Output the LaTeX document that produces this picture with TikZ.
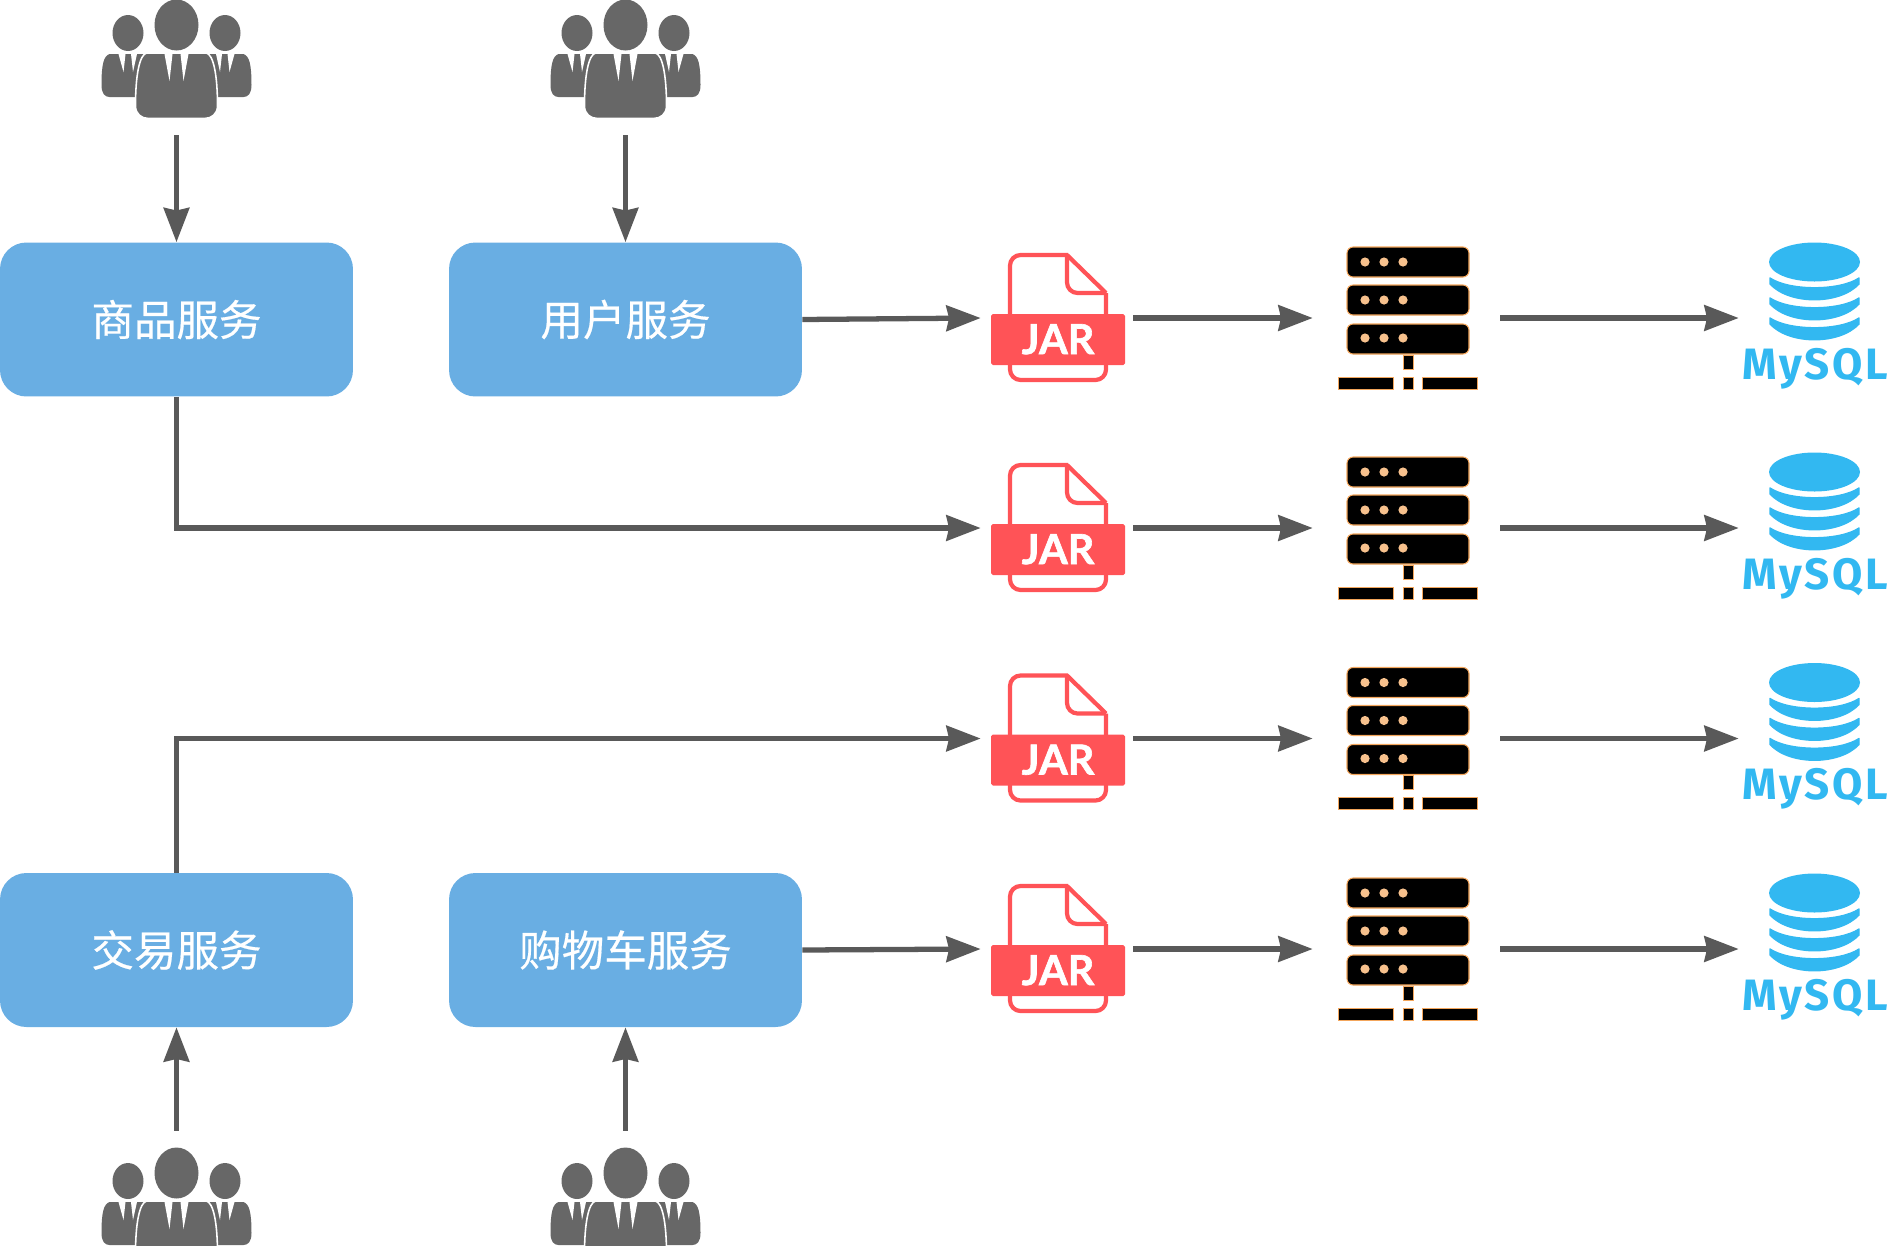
\documentclass[tikz,border=0pt]{standalone}
\usepackage{fontspec}
\setmainfont[FakeBold=0.4]{Noto Sans CJK SC}
\setsansfont{Fira Sans}
\newfontfamily\jarfont[FakeBold=1.5]{Lato}
\usetikzlibrary{arrows.meta}
\definecolor{C1}{HTML}{69AEE3}
\definecolor{C2}{HTML}{595959}
\definecolor{C3}{HTML}{676767}
\definecolor{C4}{HTML}{FF5357}
\definecolor{C5}{HTML}{F3A65C}
\definecolor{C6}{HTML}{32B8F1}
\tikzset{
crowd/.pic={
\node[inner sep=0mm,minimum width=3cm,minimum height=3.04cm] (box) at (0,59) {};
\foreach \s in {1,-1} {
\begin{scope}[xscale=\s]
\fill[C3] (-48.5,33) ellipse (15.5 and 18);
\fill[C3] (-67,54) -- (-30,54) -- (-30,97) -- (-67,97) .. controls (-72,97) and (-75,93) .. (-75,85) .. controls (-75,65) and (-73,56) .. (-67,54) -- cycle;
\fill[white] (-58,54) -- (-51,54) -- (-53,72) -- cycle;
\fill[white] (-45.5,54) -- (-39.5,54) -- (-43.5,72) -- cycle;
\end{scope}
}
\fill[C3] (0,25) ellipse (22 and 25.5);
\filldraw[fill=C3,draw=white,line width=0.9pt] (-30,53) -- (30,53) .. controls (37,55) and (41,75) .. (41,106) .. controls (41,114) and (35,118.5) .. (28,118.5) -- (-28,118.5) .. controls (-35,118.5) and (-41,114) .. (-41,106) .. controls (-41,75) and (-37,55) .. (-30,53) -- cycle;
\fill[white] (-12,54) -- (-4,54) -- (-7,81) -- cycle;
\fill[white] (4,54) -- (12,54) -- (7,81) -- cycle;
},
jar/.pic={
\node[inner sep=0mm,minimum width=3.04cm,minimum height=2.6cm] (box) at (-1,0) {};
\draw[C4,line width=2.4pt,rounded corners=6pt] (10,-63) -- (-48,-63) -- (-48,62) -- (48,62) -- (48,-25);
\draw[C4,line width=2.4pt,line join=round] (9,-63) -- (48,-25);
\draw[C4,line width=2.4pt,rounded corners=6pt] (9,-63) -- (9,-25) -- (48,-25);
\fill[C4,rounded corners=1pt] (-67,-4) rectangle (67,47);
\node[white,inner sep=0mm,anchor=base,font=\fontsize{23.5}{26}\selectfont\jarfont\bfseries] (label) at (0,36) {JAR};
},
server/.pic={
\node[inner sep=0mm,minimum width=3.74cm,minimum height=2.8cm] (box) at (-1.5,0) {};
\foreach \y/\d in {-71/-56,-33/-18,6/20} {
\filldraw[fill=black,draw=C5,line width=0.6pt,rounded corners=3.5pt] (-61,\y) rectangle (61,\y+30);
\foreach \x in {-43,-24,-5}
\fill[C5!70!white] (\x,\d) circle (4.6);
}
\filldraw[fill=black,draw=C5,line width=0.4pt] (-5,37) rectangle (5,51);
\filldraw[fill=black,draw=C5,line width=0.4pt] (-5,59) rectangle (5,71);
\filldraw[fill=black,draw=C5,line width=0.4pt] (-70,59) rectangle (-15,71);
\filldraw[fill=black,draw=C5,line width=0.4pt] (14,59) rectangle (69,71);
},
mysql/.pic={
\node[inner sep=0mm,minimum width=3.02cm,minimum height=2.8cm] (box) at (0,0) {};
\fill[C6] (0,-56) ellipse (45.5 and 19.5);
\foreach \h in {-40,-20,0}
\filldraw[C6,line width=0.8pt,line join=round] (-44.5,\h) .. controls (-25,\h+13) and (25,\h+13) .. (44.5,\h) -- (44.5,\h+6) .. controls (25,\h+27) and (-25,\h+27) .. (-44.5,\h+6) -- cycle;
\node[C6,inner sep=0mm,anchor=base,font=\fontsize{25}{28}\selectfont\sffamily\bfseries\addfontfeature{LetterSpace=6}] (label) at (0.5,61) {MySQL};
}
}
\begin{document}
\begin{tikzpicture}[x=0.02cm,y=-0.02cm]
\tikzstyle{n} = [fill=C1,text=white,rounded corners=15pt,inner sep=0mm,minimum width=7.06cm,minimum height=3.08cm,font=\fontsize{24.2}{28}\selectfont]
\tikzstyle{a} = [line width=3pt,C2,>={Stealth[length=19.5pt,width=14.5pt,inset=1.5pt]},->]
\useasboundingbox (0,0) rectangle (1887,1245);
\def\jx{1058}
\def\sx{1408}
\def\mx{1814.5}
% services
\node[n] (goods) at (176.5,319.5) {商品服务};
\node[n] (user) at (625.5,319.5) {用户服务};
\node[n] (trade) at (176.5,950) {交易服务};
\node[n] (cart) at (625.5,950) {购物车服务};
% people
\pic (crowd1) at (176.5,0) {crowd};
\pic (crowd2) at (625.5,0) {crowd};
\pic (crowd3) at (176.5,1148) {crowd};
\pic (crowd4) at (625.5,1148) {crowd};
% rows
\pic (jar1) at (\jx,318) {jar};
\pic (jar2) at (\jx,528) {jar};
\pic (jar3) at (\jx,738.5) {jar};
\pic (jar4) at (\jx,949) {jar};
\pic (server1) at (\sx,318) {server};
\pic (server2) at (\sx,528) {server};
\pic (server3) at (\sx,738.5) {server};
\pic (server4) at (\sx,949) {server};
\pic (mysql1) at (\mx,318) {mysql};
\pic (mysql2) at (\mx,528) {mysql};
\pic (mysql3) at (\mx,738.5) {mysql};
\pic (mysql4) at (\mx,949) {mysql};
\path[a]
(crowd1box.south) edge (goods.north)
(crowd2box.south) edge (user.north)
(crowd3box.north) edge (trade.south)
(crowd4box.north) edge (cart.south)
(user.east) edge (jar1box.west)
(cart.east) edge (jar4box.west)
(jar1box.east) edge (server1box.west)
(jar2box.east) edge (server2box.west)
(jar3box.east) edge (server3box.west)
(jar4box.east) edge (server4box.west)
(server1box.east) edge (mysql1box.west)
(server2box.east) edge (mysql2box.west)
(server3box.east) edge (mysql3box.west)
(server4box.east) edge (mysql4box.west);
\draw[a] (goods.south) |- (jar2box.west);
\draw[a] (trade.north) |- (jar3box.west);
\end{tikzpicture}
\end{document}
